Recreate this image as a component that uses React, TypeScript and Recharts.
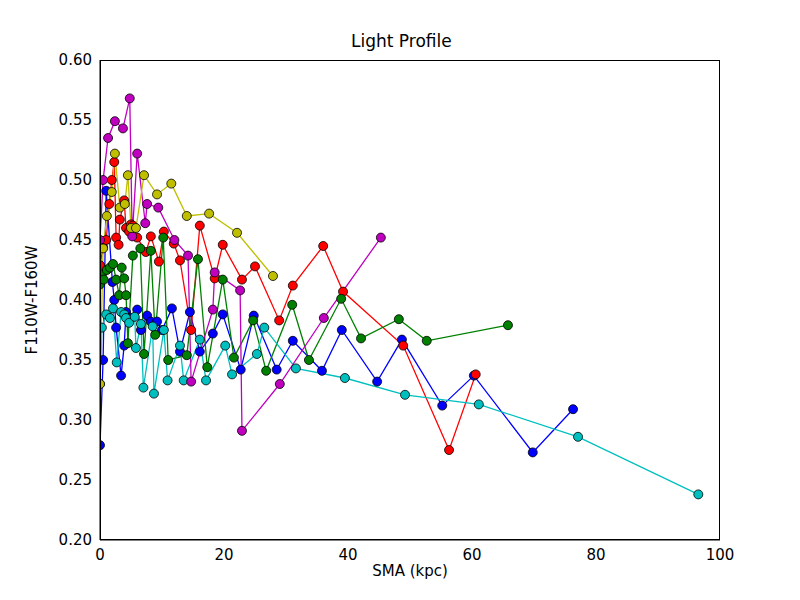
import React from 'react';
import { LineChart, Line, XAxis, YAxis } from 'recharts';

type P = [number, number];

const blue: P[] = [[0,0.279],[0.5,0.35],[1,0.491],[2,0.415],[2.3,0.40],[2.6,0.377],[3.4,0.337],[3.9,0.362],[4.2,0.39],[5,0.385],[6,0.392],[6.6,0.375],[7.6,0.387],[8.2,0.382],[9.2,0.382],[10,0.375],[11.6,0.393],[12.9,0.357],[14.5,0.39],[16.1,0.357],[18.2,0.372],[19.8,0.388],[22.7,0.342],[24.8,0.387],[28.5,0.342],[31.1,0.366],[35.8,0.341],[39,0.375],[44.7,0.332],[48.7,0.367],[55.2,0.312],[60.3,0.337],[69.8,0.273],[76.3,0.309]];
const red: P[] = [[0,0.429],[0.5,0.444],[1,0.45],[1.5,0.48],[1.9,0.5],[2.3,0.515],[2.6,0.452],[3,0.446],[3.2,0.467],[3.9,0.483],[4.2,0.46],[4.7,0.457],[5,0.463],[5.3,0.462],[6,0.452],[7.4,0.44],[8.2,0.453],[9.5,0.432],[10.3,0.457],[11.9,0.447],[12.9,0.433],[14.7,0.375],[16.1,0.462],[18.5,0.418],[19.8,0.446],[22.9,0.417],[25,0.428],[28.9,0.383],[31.1,0.412],[36,0.445],[39.2,0.407],[48.9,0.362],[56.3,0.275],[60.6,0.338]];
const green: P[] = [[0,0.413],[0.3,0.421],[0.6,0.417],[1.1,0.425],[1.6,0.427],[2.1,0.43],[2.6,0.417],[3.1,0.404],[3.5,0.427],[3.9,0.418],[4.2,0.404],[4.5,0.364],[5.3,0.437],[6.5,0.443],[7.1,0.355],[8.2,0.441],[8.9,0.371],[10.2,0.452],[11,0.35],[14,0.354],[15.8,0.434],[17.3,0.344],[19.8,0.417],[21.6,0.352],[24.7,0.383],[26.8,0.341],[31,0.396],[33.7,0.35],[38.9,0.401],[42.1,0.368],[48.2,0.384],[52.7,0.366],[65.8,0.379]];
const cyan: P[] = [[0,0.33],[0.3,0.377],[1,0.388],[1.6,0.385],[2.1,0.393],[2.7,0.348],[3.4,0.39],[3.9,0.388],[4.2,0.385],[4.7,0.381],[5.6,0.386],[5.8,0.36],[6.6,0.38],[7,0.327],[8.5,0.378],[8.7,0.322],[10.3,0.375],[10.9,0.333],[12.9,0.362],[13.5,0.333],[16.1,0.367],[17.1,0.333],[20.2,0.362],[21.3,0.338],[25.3,0.355],[26.5,0.377],[31.6,0.343],[39.5,0.335],[49.2,0.321],[61.1,0.313],[77.1,0.286],[96.5,0.238]];
const magenta: P[] = [[0,0.45],[0.5,0.5],[1.3,0.535],[2.4,0.549],[3.7,0.543],[4.8,0.568],[5.2,0.453],[6,0.522],[7.3,0.464],[7.6,0.48],[9.4,0.477],[12,0.45],[14.2,0.437],[14.7,0.332],[18.2,0.392],[18.5,0.423],[22.6,0.408],[22.9,0.291],[29,0.33],[36.1,0.385],[45.3,0.452]];
const yellow: P[] = [[0,0.33],[0.5,0.443],[1.1,0.47],[1.9,0.49],[2.4,0.522],[3.2,0.477],[4,0.48],[4.5,0.504],[5,0.46],[5.8,0.46],[7.1,0.504],[9.2,0.488],[11.5,0.497],[14,0.47],[17.6,0.472],[22.1,0.456],[27.9,0.42]];

const series = [
  { name: 'b', pts: blue, color: '#0000ff' },
  { name: 'r', pts: red, color: '#ff0000' },
  { name: 'g', pts: green, color: '#008000' },
  { name: 'c', pts: cyan, color: '#00bfbf' },
  { name: 'm', pts: magenta, color: '#bf00bf' },
  { name: 'y', pts: yellow, color: '#bfbf00' },
];

const xTicks = [0, 20, 40, 60, 80, 100];
const yTicks = [0.2, 0.25, 0.3, 0.35, 0.4, 0.45, 0.5, 0.55, 0.6];

const font = 'DejaVu Sans';

export default function App() {
  return (
    <div style={{ position: 'absolute', left: 0, top: 0, width: 800, height: 600, background: '#fff', fontFamily: font }}>
      <div style={{ position: 'absolute', top: 31, width: 800, textAlign: 'left', paddingLeft: 351, fontSize: 17 }}>Light Profile</div>
      <LineChart width={800} height={600} margin={{ top: 60, right: 80, bottom: 20, left: 40 }}>
        <XAxis type="number" dataKey="x" domain={[0, 100]} ticks={xTicks} allowDataOverflow height={40}
          tick={{ fill: '#000', fontSize: 15, fontFamily: font }} stroke="#000" tickSize={0} tickMargin={9}
          label={{ value: 'SMA (kpc)', position: 'insideBottom', offset: 4, fill: '#000', fontSize: 15, fontFamily: font }} />
        <YAxis type="number" dataKey="y" domain={[0.2, 0.6]} ticks={yTicks} width={60} allowDataOverflow
          tickFormatter={(v: number) => v.toFixed(2)}
          tick={{ fill: '#000', fontSize: 15, fontFamily: font }} stroke="#000" tickSize={0} tickMargin={8}
          label={{ value: 'F110W-F160W', angle: -90, position: 'insideLeft', offset: 0, dx: -8, fill: '#000', fontSize: 15, fontFamily: font, style: { textAnchor: 'middle' } }} />
        {series.map((s) => (
          <Line key={s.name} data={s.pts.map(([x, y]) => ({ x, y }))} dataKey="y" stroke={s.color}
            strokeWidth={1.3} isAnimationActive={false}
            dot={{ r: 4.5, fill: s.color, stroke: '#000', strokeWidth: 0.8 }} />
        ))}
      </LineChart>
      <div style={{ position: 'absolute', left: 100, top: 60, width: 620, height: 480, border: '1px solid #000', boxSizing: 'border-box', pointerEvents: 'none' }} />
    </div>
  );
}
